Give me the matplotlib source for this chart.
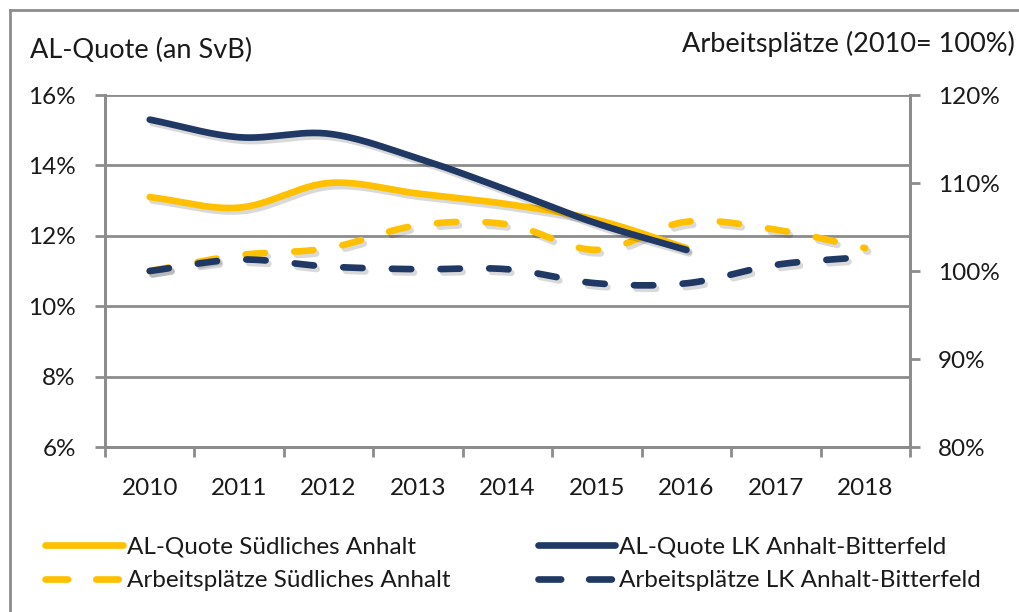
import numpy as np
import matplotlib
matplotlib.use("Agg")
import matplotlib.pyplot as plt
import matplotlib.patheffects as pe
from matplotlib.lines import Line2D

# data
years = [2010, 2011, 2012, 2013, 2014, 2015, 2016, 2017, 2018]
al_sued = [13.1, 12.8, 13.5, 13.2, 12.9, 12.45, 11.65]        # % (left axis), until 2016
al_lk = [15.3, 14.8, 14.9, 14.2, 13.3, 12.35, 11.6]           # % (left axis), until 2016
ap_sued = [100.0, 101.8, 102.6, 105.2, 105.3, 102.4, 105.6, 104.7, 102.6]  # % of 2010
ap_lk = [100.0, 101.3, 100.5, 100.2, 100.2, 98.6, 98.6, 100.7, 101.6]      # % of 2010

left_ticks = [6, 8, 10, 12, 14, 16]
right_ticks = [80, 90, 100, 110, 120]

YELLOW = "#FFC000"
NAVY = "#1F3864"
GRID = "#8C8C8C"
TXT = "#1a1a1a"

plt.rcParams['font.family'] = ['Lato', 'DejaVu Sans']


def smooth(xs, ys, n=30):
    # catmull-rom style smoothing, like excel's "smoothed line"
    xs = np.asarray(xs, float)
    ys = np.asarray(ys, float)
    px = np.concatenate([[2 * xs[0] - xs[1]], xs, [2 * xs[-1] - xs[-2]]])
    py = np.concatenate([[2 * ys[0] - ys[1]], ys, [2 * ys[-1] - ys[-2]]])
    out_x, out_y = [], []
    t = np.linspace(0, 1, n, endpoint=False)
    for i in range(1, len(px) - 2):
        for p, o in ((px, out_x), (py, out_y)):
            p0, p1, p2, p3 = p[i - 1], p[i], p[i + 1], p[i + 2]
            o.extend(0.5 * ((2 * p1) + (-p0 + p2) * t
                            + (2 * p0 - 5 * p1 + 4 * p2 - p3) * t ** 2
                            + (-p0 + 3 * p1 - 3 * p2 + p3) * t ** 3))
    out_x.append(xs[-1])
    out_y.append(ys[-1])
    return np.array(out_x), np.array(out_y)


shadow = [pe.SimpleLineShadow(offset=(2, -2.5), shadow_color="k", alpha=0.15), pe.Normal()]
LW = 4.8
DASH = (0, (2.9, 4.4))

fig = plt.figure(figsize=(10.2, 6.12), dpi=100)
ax = fig.add_axes([105 / 1020, 1 - 447 / 612, 805 / 1020, 352 / 612])
ax2 = ax.twinx()

x = np.arange(len(years))

# right axis: workplaces (dashed)
sx, sy = smooth(x, ap_sued)
ax2.plot(sx, sy, color=YELLOW, lw=LW, ls=DASH, dash_capstyle="round", path_effects=shadow)
sx, sy = smooth(x, ap_lk)
ax2.plot(sx, sy, color=NAVY, lw=LW, ls=DASH, dash_capstyle="round", path_effects=shadow)

# left axis: unemployment rate (solid), mapped onto the right scale so it sits on top
sx, sy = smooth(x[:len(al_sued)], al_sued)
ax2.plot(sx, (sy - 6) * 4 + 80, color=YELLOW, lw=LW, solid_capstyle="round", path_effects=shadow)
sx, sy = smooth(x[:len(al_lk)], al_lk)
ax2.plot(sx, (sy - 6) * 4 + 80, color=NAVY, lw=LW, solid_capstyle="round", path_effects=shadow)

ax.set_xlim(-0.5, len(years) - 0.5)
ax.set_ylim(6, 16)
ax2.set_ylim(80, 120)

ax.set_yticks(left_ticks)
ax.set_yticklabels([f"{v}%" for v in left_ticks])
ax2.set_yticks(right_ticks)
ax2.set_yticklabels([f"{v}%" for v in right_ticks])
ax.set_xticks(x)
ax.set_xticklabels([str(y) for y in years])
ax.set_xticks(np.arange(-0.5, len(years)), minor=True)

ax.grid(axis="y", color=GRID, lw=2)
ax.set_axisbelow(True)
for a in (ax, ax2):
    for s in a.spines.values():
        s.set_color(GRID)
        s.set_linewidth(2)
    a.spines["top"].set_visible(False)
ax.tick_params(axis="x", which="major", length=0, labelsize=17.5, colors=TXT, pad=22)
ax.tick_params(axis="x", which="minor", length=7, width=2, color=GRID)
ax.tick_params(axis="y", length=7, width=2, color=GRID, labelsize=17.5, labelcolor=TXT, pad=14)
ax2.tick_params(axis="y", length=7, width=2, color=GRID, labelsize=17.5, labelcolor=TXT, pad=13)

fig.text(30 / 1020, 1 - 50 / 612, "AL-Quote (an SvB)", fontsize=19.5, color=TXT, va="center")
fig.text(1015 / 1020, 1 - 44 / 612, "Arbeitsplätze (2010= 100%)", fontsize=19.5,
         color=TXT, va="center", ha="right")

handles = [
    Line2D([], [], color=YELLOW, lw=LW, solid_capstyle="round"),
    Line2D([], [], color=YELLOW, lw=LW, ls=(0, (3.4, 4.2)), dash_capstyle="round"),
    Line2D([], [], color=NAVY, lw=LW, solid_capstyle="round"),
    Line2D([], [], color=NAVY, lw=LW, ls=(0, (3.4, 4.2)), dash_capstyle="round"),
]
labels = ["AL-Quote Südliches Anhalt", "Arbeitsplätze Südliches Anhalt",
          "AL-Quote LK Anhalt-Bitterfeld", "Arbeitsplätze LK Anhalt-Bitterfeld"]
fig.legend(handles, labels, loc="center left", bbox_to_anchor=(33 / 1020, 1 - 564 / 612),
           ncol=2, frameon=False, fontsize=17.5, handlelength=3.2, handletextpad=0.15,
           columnspacing=3.6, labelspacing=0.5, labelcolor=TXT, borderpad=0)

# outer chart frame
fig.add_artist(Line2D([10 / 1020, 10 / 1020], [0, 1 - 10 / 612], color=GRID, lw=2))
fig.add_artist(Line2D([10 / 1020, 1], [1 - 10 / 612, 1 - 10 / 612], color=GRID, lw=2))

fig.savefig("out.png", dpi=100)
